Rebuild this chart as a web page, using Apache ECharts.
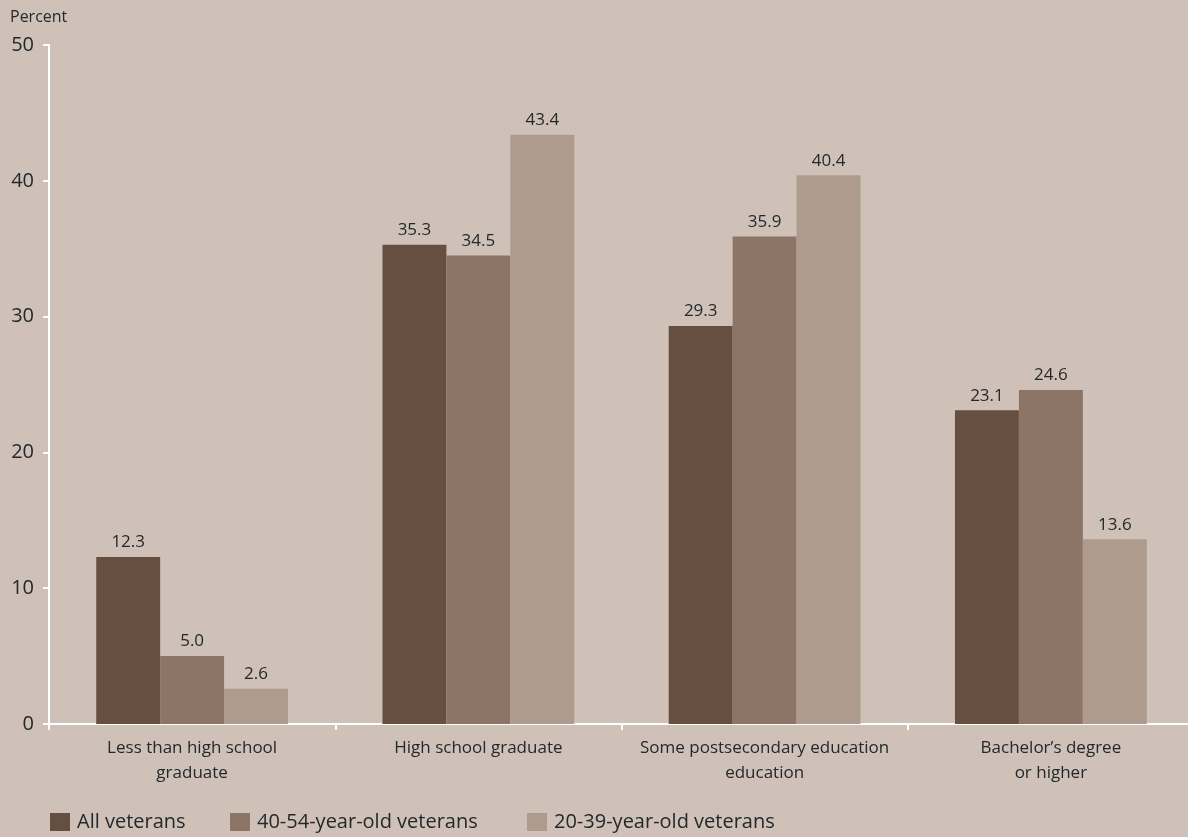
<!DOCTYPE html>
<html>
<head>
    <meta charset="utf-8">
    <script src="https://cdn.jsdelivr.net/npm/echarts@6/dist/echarts.min.js"></script>
    <style>
        body { margin: 0; background: #cfc1b8; }
    </style>
</head>
<body>
    <div id="main" style="width: 1188px;height:837px;"></div>
    <script type="text/javascript">
        // data
        var categories = ['Less than high school\ngraduate', 'High school graduate',
            'Some postsecondary education\neducation', 'Bachelor\u2019s degree\nor higher'];
        var seriesNames = ['All veterans', '40-54-year-old veterans', '20-39-year-old veterans'];
        var allVets = [12.3, 35.3, 29.3, 23.1];
        var vets40to54 = [5.0, 34.5, 35.9, 24.6];
        var vets20to39 = [2.6, 43.4, 40.4, 13.6];
        var yTicks = [0, 10, 20, 30, 40, 50];

        var colors = ['#664f40', '#8c7466', '#ae9b8d'];
        var textColor = '#23292b';
        var font = '"Open Sans", "Noto Sans", sans-serif';
        var legendLefts = [50, 230, 527];

        var myChart = echarts.init(document.getElementById('main'));

        function makeSeries(name, data, i) {
            return {
                name: name,
                type: 'bar',
                data: data,
                barGap: '0%',
                barCategoryGap: '33%',
                itemStyle: { color: colors[i] },
                label: {
                    show: true,
                    position: 'top',
                    distance: 6,
                    color: textColor,
                    fontSize: 17,
                    fontFamily: font,
                    formatter: function (p) { return p.value.toFixed(1); }
                }
            };
        }

        // one legend per item so the gaps can match the original
        var legends = seriesNames.map(function (name, i) {
            return {
                data: [name],
                left: legendLefts[i],
                top: 812,
                padding: 0,
                itemWidth: 20,
                itemHeight: 18,
                icon: 'rect',
                textStyle: { color: textColor, fontSize: 20, fontFamily: font, padding: [0, 0, 0, 2] }
            };
        });

        var option = {
            backgroundColor: '#cfc1b8',
            animation: false,
            textStyle: { fontFamily: font },
            grid: {
                left: 49,
                width: 1145,
                top: 45,
                bottom: 113,
                outerBoundsMode: 'none'
            },
            legend: legends,
            xAxis: {
                type: 'category',
                data: categories,
                axisLine: { lineStyle: { color: '#ffffff', width: 2 } },
                axisTick: { show: true, length: 6, lineStyle: { color: '#ffffff', width: 2 } },
                axisLabel: {
                    color: textColor,
                    fontSize: 17,
                    fontFamily: font,
                    lineHeight: 25,
                    margin: 12,
                    interval: 0
                }
            },
            yAxis: {
                type: 'value',
                min: yTicks[0],
                max: yTicks[yTicks.length - 1],
                interval: 10,
                name: 'Percent',
                nameLocation: 'end',
                nameGap: 20,
                nameTextStyle: { color: textColor, fontSize: 16, fontFamily: font, align: 'left', padding: [0, 0, 0, -39] },
                axisLine: { show: true, lineStyle: { color: '#ffffff', width: 2 } },
                axisTick: { show: true, length: 6, lineStyle: { color: '#ffffff', width: 2 } },
                axisLabel: { color: textColor, fontSize: 20, fontFamily: font, margin: 15 },
                splitLine: { show: false }
            },
            series: [
                makeSeries(seriesNames[0], allVets, 0),
                makeSeries(seriesNames[1], vets40to54, 1),
                makeSeries(seriesNames[2], vets20to39, 2)
            ]
        };

        myChart.setOption(option);
    </script>
</body>
</html>
